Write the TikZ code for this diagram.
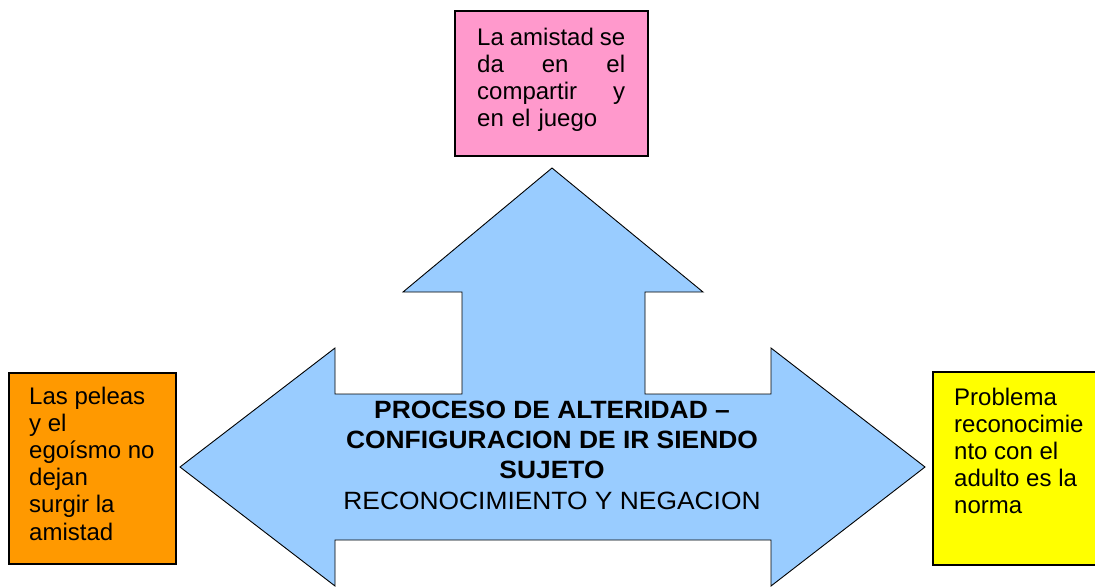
\documentclass[tikz,border=0pt]{standalone}
\usepackage{fontspec}
\setmainfont{Liberation Sans}
\newfontfamily\anchafont[FakeStretch=1.055]{Liberation Sans}
\usepackage{xcolor}
\usetikzlibrary{positioning,calc}

\definecolor{flechaazul}{HTML}{99CCFF}
\definecolor{cajarosa}{HTML}{FF99CC}
\definecolor{cajanaranja}{HTML}{FF9900}
\definecolor{cajaamarilla}{HTML}{FFFF00}

\begin{document}
\begin{tikzpicture}[x=1pt,y=-1pt,
  every node/.style={font=\fontsize{24}{27.2}\selectfont},
  caja/.style={draw=black,line width=1.5pt,rectangle,inner sep=0pt,anchor=north west},
  texto/.style={inner sep=0pt,anchor=north west,align=left}]
  \useasboundingbox (0,0) rectangle (1095,587);

  \draw[fill=flechaazul,line width=0.9pt,line join=miter]
    (552,168) -- (703,292) -- (645,292) -- (645,394) -- (771,394) -- (771,348)
    -- (925,467) -- (771,586) -- (771,540) -- (335,540) -- (335,586)
    -- (180,467) -- (335,348) -- (335,394) -- (462,394) -- (462,292)
    -- (403,292) -- cycle;

  \node[caja,fill=cajarosa,minimum width=193pt,minimum height=145pt] (amistad) at (454,10) {};
  \node[caja,fill=cajanaranja,minimum width=167pt,minimum height=191pt] (peleas) at (8,372) {};
  \node[caja,fill=cajaamarilla,minimum width=180pt,minimum height=193pt] (problema) at (932,371) {};

  \node[texto,text width=148pt] (amistadtxt) at ([xshift=23pt,yshift=-17.5pt]amistad.north west)
    {La\hfill amistad\hfill se\\
     da\hfill en\hfill el\\
     compartir\hfill y\\
     en el juego};
  \node[texto] (peleastxt) at ([xshift=21pt,yshift=-14.5pt]peleas.north west)
    {Las peleas\\ y el\\ egoísmo no\\ dejan\\ surgir la\\ amistad};
  \node[texto] (problematxt) at ([xshift=22pt,yshift=-16.5pt]problema.north west)
    {Problema\\ reconocimie\\ nto con el\\ adulto es la\\ norma};

  \node[inner sep=0pt,anchor=north,align=center,
        font=\anchafont\fontsize{25}{30.3}\selectfont] (alteridad) at (552,400.7)
    {\textbf{PROCESO DE ALTERIDAD –}\\
     \textbf{CONFIGURACION DE IR SIENDO}\\
     \textbf{SUJETO}\\
     RECONOCIMIENTO Y NEGACION};
\end{tikzpicture}
\end{document}
